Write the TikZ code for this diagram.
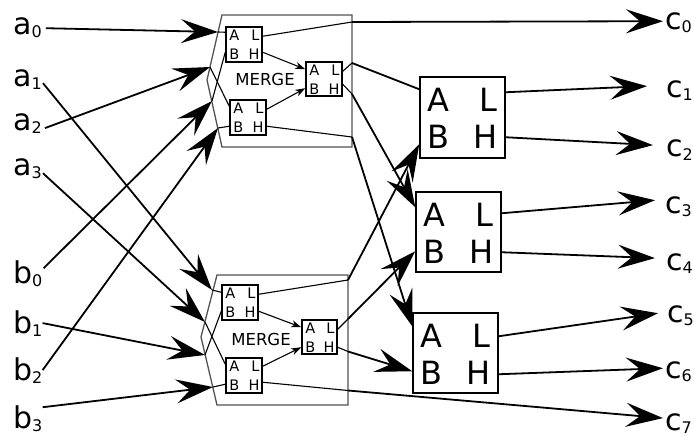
\documentclass[tikz,border=0pt]{standalone}
\usepackage{fontspec}
\setmainfont{DejaVu Sans}
\usetikzlibrary{arrows.meta,calc}

% letter with a lowered subscript digit
\newcommand\sublbl[2]{#1\raisebox{-3pt}{\fontsize{16}{16}\selectfont #2}}

% ports of a comparator: name, dy of A, dy of B, dy of L, dy of H (from the top edge)
\newcommand\cmpports[5]{%
  \coordinate (#1-A) at ($(#1.north west)+(0,#2)$);
  \coordinate (#1-B) at ($(#1.north west)+(0,#3)$);
  \coordinate (#1-L) at ($(#1.north east)+(0,#4)$);
  \coordinate (#1-H) at ($(#1.north east)+(0,#5)$);
}
% letters of a comparator: name, style, left inset, right inset, baseline 1, baseline 2
\newcommand\cmpletters[6]{%
  \node[#2, anchor=base west] (#1-tA) at ($(#1.north west)+(#3,#5)$) {A};
  \node[#2, anchor=base east] (#1-tL) at ($(#1.north east)+(-#4,#5)$) {L};
  \node[#2, anchor=base west] (#1-tB) at ($(#1.north west)+(#3,#6)$) {B};
  \node[#2, anchor=base east] (#1-tH) at ($(#1.north east)+(-#4,#6)$) {H};
}

\begin{document}
\begin{tikzpicture}[x=1pt,y=-1pt,
  lbl/.style={font=\fontsize{30}{30}\selectfont, inner sep=0pt},
  wire/.style={line width=1.8pt},
  inwire/.style={line width=1.1pt},
  bigarrow/.style={wire,-{Stealth[length=37pt,width=24pt,inset=14pt]}},
  smallarrow/.style={inwire,-{Stealth[length=10pt,width=7pt,inset=3pt]}},
  frame/.style={draw=black!68, line width=1.3pt},
  bigcmp/.style={draw, line width=1.5pt, minimum width=85pt, minimum height=80pt, inner sep=0pt},
  smallcmp/.style={draw, line width=1.5pt, minimum width=36pt, minimum height=35pt, inner sep=0pt},
  bigletter/.style={font=\fontsize{32}{32}\selectfont, inner sep=0pt},
  smallletter/.style={font=\fontsize{14.5}{14.5}\selectfont, inner sep=0pt},
  mergetext/.style={font=\fontsize{16.5}{16.5}\selectfont, inner sep=0pt, anchor=base},
]
\useasboundingbox (0,0) rectangle (694,436);

% ---------- input and output labels ----------
\node[lbl, anchor=base west] (a0) at (13,35)  {\sublbl{a}{0}};
\node[lbl, anchor=base west] (a1) at (13,87)  {\sublbl{a}{1}};
\node[lbl, anchor=base west] (a2) at (13,130) {\sublbl{a}{2}};
\node[lbl, anchor=base west] (a3) at (13,175) {\sublbl{a}{3}};
\node[lbl, anchor=base west] (b0) at (13,283) {\sublbl{b}{0}};
\node[lbl, anchor=base west] (b1) at (13,333) {\sublbl{b}{1}};
\node[lbl, anchor=base west] (b2) at (13,380) {\sublbl{b}{2}};
\node[lbl, anchor=base west] (b3) at (13,428) {\sublbl{b}{3}};

\node[lbl, anchor=base west] (c0) at (665,30)  {\sublbl{c}{0}};
\node[lbl, anchor=base west] (c1) at (666,98)  {\sublbl{c}{1}};
\node[lbl, anchor=base west] (c2) at (666,157) {\sublbl{c}{2}};
\node[lbl, anchor=base west] (c3) at (665,213) {\sublbl{c}{3}};
\node[lbl, anchor=base west] (c4) at (666,270) {\sublbl{c}{4}};
\node[lbl, anchor=base west] (c5) at (667,322) {\sublbl{c}{5}};
\node[lbl, anchor=base west] (c6) at (665,378) {\sublbl{c}{6}};
\node[lbl, anchor=base west] (c7) at (665,430) {\sublbl{c}{7}};

% ---------- the two MERGE modules ----------
\draw[frame] (222,15) -- (352,15) -- (352,147) -- (222,147) -- (207,80) -- cycle;
\draw[frame] (217,275) -- (348,275) -- (348,405) -- (217,405) -- (201,337) -- cycle;

\node[smallcmp] (U1) at (244,44.5) {};
\node[smallcmp] (U2) at (248,117.5) {};
\node[smallcmp, minimum height=34pt] (U3) at (324,79) {};
\node[smallcmp] (D1) at (240,302.5) {};
\node[smallcmp] (D2) at (244,375.5) {};
\node[smallcmp, minimum width=35pt, minimum height=34pt] (D3) at (319.5,337) {};

\foreach \b in {U1,U2,U3,D1,D2,D3} {\cmpletters{\b}{smallletter}{4}{3}{14.5}{33.5}}
\cmpports{U1}{6}{26}{10}{26}
\cmpports{U2}{7}{27}{10}{27}
\cmpports{U3}{8}{27}{10}{23}
\cmpports{D1}{8}{27}{10}{27}
\cmpports{D2}{7}{27}{9}{25}
\cmpports{D3}{8}{28}{10}{28}

\node[mergetext] (mU) at (265,86)  {MERGE};
\node[mergetext] (mD) at (261,345) {MERGE};

% ---------- final comparators ----------
\node[bigcmp, minimum height=81pt] (M1) at (462.5,117.5) {};
\node[bigcmp] (M2) at (458.5,232) {};
\node[bigcmp] (M3) at (455.5,353) {};
\foreach \b in {M1,M2,M3} {\cmpletters{\b}{bigletter}{8}{8}{35}{72}}
\cmpports{M1}{13}{68}{16}{61}
\cmpports{M2}{16}{60}{22}{61}
\cmpports{M3}{14}{59}{24}{62}

% ---------- points where wires meet the module frames ----------
\coordinate (tA0) at (218,32);
\coordinate (tA2) at (210,67);
\coordinate (tB0) at (212,101);
\coordinate (tB2) at (218,128);
\coordinate (tA1) at (212,290);
\coordinate (tA3) at (205,322);
\coordinate (tB1) at (205,355);
\coordinate (tB3) at (213,387);

\coordinate (kU1L) at (352,22);
\coordinate (kU3L) at (352,63);
\coordinate (kU3H) at (352,94);
\coordinate (kU2H) at (352,137);
\coordinate (kD1L) at (348,280);
\coordinate (kD3L) at (348,319);
\coordinate (kD3H) at (348,351.5);
\coordinate (kD2H) at (348,390.5);

% ---------- inputs ----------
\draw[bigarrow] ($(a0.east)+(4,0)$)  -- (tA0);
\draw[bigarrow] ($(a2.east)+(3,5)$)  -- (tA2);
\draw[bigarrow] ($(b0.east)+(1,-5)$) -- (tB0);
\draw[bigarrow] ($(b2.east)+(0,0)$)  -- (tB2);
\draw[bigarrow] ($(a1.east)+(1,3)$)  -- (tA1);
\draw[bigarrow] ($(a3.east)+(1,5)$)  -- (tA3);
\draw[bigarrow] ($(b1.east)+(0,0)$)  -- (tB1);
\draw[bigarrow] ($(b3.east)+(0,-11)$) -- (tB3);

% ---------- wiring inside the modules ----------
\draw[inwire] (tA0) -- (U1-A);
\draw[inwire] (tB0) -- (U1-B);
\draw[inwire] (tA2) -- (U2-A);
\draw[inwire] (tB2) -- (U2-B);
\draw[smallarrow] (U1-H) -- (U3-A);
\draw[smallarrow] (U2-L) -- (U3-B);
\draw[inwire] (U1-L) -- (kU1L);
\draw[inwire] (U3-L) -- (kU3L);
\draw[inwire] (U3-H) -- (kU3H);
\draw[inwire] (U2-H) -- (kU2H);

\draw[inwire] (tA1) -- (D1-A);
\draw[inwire] (tB1) -- (D1-B);
\draw[inwire] (tA3) -- (D2-A);
\draw[inwire] (tB3) -- (D2-B);
\draw[smallarrow] (D1-H) -- (D3-A);
\draw[smallarrow] (D2-L) -- (D3-B);
\draw[inwire] (D1-L) -- (kD1L);
\draw[inwire] (D3-L) -- (kD3L);
\draw[inwire] (D3-H) -- (kD3H);
\draw[inwire] (D2-H) -- (kD2H);

% ---------- from the modules to the final comparators ----------
\draw[wire] (kU3L) -- (M1-A);
\draw[bigarrow] (kD1L) -- (M1-B);
\draw[bigarrow] (kU3H) -- (M2-A);
\draw[bigarrow] (kD3L) -- (M2-B);
\draw[bigarrow] (kU2H) -- (M3-A);
\draw[bigarrow] (kD3H) -- (M3-B);

% ---------- outputs ----------
\draw[bigarrow] (kU1L) -- ($(c0.west)+(-2,-2)$);
\draw[bigarrow] (M1-L) -- ($(c1.west)+(-19,-5)$);
\draw[bigarrow] (M1-H) -- ($(c2.west)+(-13,-5)$);
\draw[bigarrow] (M2-L) -- ($(c3.west)+(-10,-6)$);
\draw[bigarrow] (M2-H) -- ($(c4.west)+(-11,-5)$);
\draw[bigarrow] (M3-L) -- ($(c5.west)+(-9,-2)$);
\draw[bigarrow] (M3-H) -- ($(c6.west)+(-2,-3)$);
\draw[bigarrow] (kD2H) -- ($(c7.west)+(-2,-5)$);
\end{tikzpicture}
\end{document}
